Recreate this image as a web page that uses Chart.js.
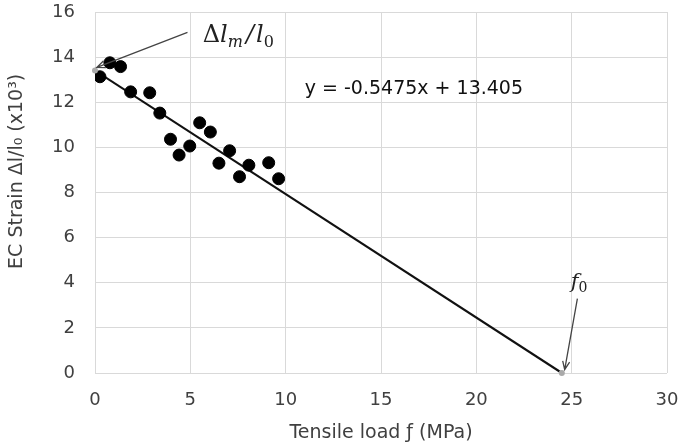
<!DOCTYPE html>
<html>
<head>
<meta charset="utf-8">
<script src="https://cdn.jsdelivr.net/npm/chart.js@4.4.1/dist/chart.umd.min.js"></script>
<style>
  html, body { margin: 0; padding: 0; background: #fff; }
  #strainChart { display: block; }
</style>
</head>
<body>
<canvas id="strainChart" width="687" height="444"></canvas>
<script>
// measured points (tensile load MPa, strain x10^3)
var loadX = [0.26, 0.78, 1.34, 1.87, 2.87, 3.40, 3.96, 4.41, 4.97, 5.49, 6.05, 6.50, 7.06, 7.58, 8.07, 9.11, 9.63];
var strainY = [13.13, 13.75, 13.58, 12.46, 12.42, 11.52, 10.36, 9.66, 10.06, 11.09, 10.68, 9.30, 9.85, 8.70, 9.21, 9.32, 8.61];

// trend line from the picture: y = -0.5475x + 13.405
var slope = -0.5475;
var intercept = 13.405;
var f0 = -intercept / slope;

var xTicks = [0, 5, 10, 15, 20, 25, 30];
var yTicks = [0, 2, 4, 6, 8, 10, 12, 14, 16];

var trend = [{x: 0, y: intercept}, {x: f0, y: 0}];
var scatter = [];
loadX.forEach(function (valor, indice) {
    scatter.push({x: valor, y: strainY[indice]});
});

var sans = '"DejaVu Sans"';

// arrows, labels and equation drawn on top
var notes = {
    id: 'notes',
    afterDatasetsDraw: function (chart) {
        var ctx = chart.ctx;
        var sx = chart.scales.x, sy = chart.scales.y;

        function arrow(x1, y1, x2, y2) {
            var a = Math.atan2(y2 - y1, x2 - x1);
            ctx.save();
            ctx.strokeStyle = '#444';
            ctx.lineWidth = 1.3;
            ctx.beginPath();
            ctx.moveTo(x1, y1);
            ctx.lineTo(x2, y2);
            ctx.moveTo(x2 - 9 * Math.cos(a - 0.4), y2 - 9 * Math.sin(a - 0.4));
            ctx.lineTo(x2, y2);
            ctx.lineTo(x2 - 9 * Math.cos(a + 0.4), y2 - 9 * Math.sin(a + 0.4));
            ctx.stroke();
            ctx.restore();
        }

        // grey end markers
        ctx.save();
        ctx.fillStyle = '#aaa';
        ctx.beginPath();
        ctx.arc(sx.getPixelForValue(0), sy.getPixelForValue(intercept), 3, 0, Math.PI * 2);
        ctx.fill();
        ctx.beginPath();
        ctx.arc(sx.getPixelForValue(f0), sy.getPixelForValue(0), 3, 0, Math.PI * 2);
        ctx.fill();
        ctx.restore();

        arrow(sx.getPixelForValue(4.85), sy.getPixelForValue(15.1),
              sx.getPixelForValue(0.1), sy.getPixelForValue(13.55));
        arrow(sx.getPixelForValue(25.3), sy.getPixelForValue(3.3),
              sx.getPixelForValue(f0 + 0.15), sy.getPixelForValue(0.15));

        ctx.save();
        ctx.fillStyle = '#222';
        ctx.textBaseline = 'alphabetic';
        // Δl_m/l_0
        var tx = sx.getPixelForValue(5.65), ty = sy.getPixelForValue(14.65);
        ctx.font = '24px "DejaVu Serif"';
        ctx.fillText('Δ', tx, ty);
        tx += ctx.measureText('Δ').width;
        ctx.font = 'italic 24px "DejaVu Serif"';
        ctx.fillText('l', tx, ty);
        tx += ctx.measureText('l').width;
        ctx.font = 'italic 16px "DejaVu Serif"';
        ctx.fillText('m', tx, ty + 5);
        tx += ctx.measureText('m').width + 3;
        ctx.font = 'italic 24px "DejaVu Serif"';
        ctx.fillText('/', tx, ty);
        tx += ctx.measureText('/').width + 2;
        ctx.fillText('l', tx, ty);
        tx += ctx.measureText('l').width;
        ctx.font = '16px "DejaVu Serif"';
        ctx.fillText('0', tx, ty + 5);

        // f0
        tx = sx.getPixelForValue(24.95); ty = sy.getPixelForValue(3.75);
        ctx.font = 'italic 21px "DejaVu Serif"';
        ctx.fillText('f', tx, ty);
        tx += ctx.measureText('f').width;
        ctx.font = '14px "DejaVu Serif"';
        ctx.fillText('0', tx, ty + 4);

        // equation
        ctx.font = '19px ' + sans;
        ctx.fillStyle = '#111';
        ctx.textBaseline = 'middle';
        ctx.fillText('y = -0.5475x + 13.405', sx.getPixelForValue(11.0), sy.getPixelForValue(12.6));
        ctx.restore();
    }
};

var strainChart = new Chart('strainChart', {
    type: 'scatter',
    data: {
        datasets: [
            {
                label: 'trend',
                data: trend,
                showLine: true,
                borderColor: '#111',
                borderWidth: 2.2,
                pointRadius: 0,
                order: 2
            },
            {
                label: 'EC strain',
                data: scatter,
                backgroundColor: '#000',
                borderColor: '#000',
                pointRadius: 6,
                order: 1
            }
        ]
    },
    plugins: [notes],
    options: {
        responsive: false,
        animation: false,
        layout: { padding: 0 },
        plugins: {
            legend: { display: false },
            tooltip: { enabled: false }
        },
        scales: {
            x: {
                min: 0, max: 30,
                afterBuildTicks: function (axis) {
                    axis.ticks = xTicks.map(function (v) { return {value: v}; });
                },
                afterFit: function (axis) {
                    axis.height = 71;
                    axis.paddingLeft = 0;
                    axis.paddingRight = 20;
                },
                grid: { color: '#d9d9d9', drawTicks: false },
                border: { display: false },
                ticks: { color: '#404040', font: { size: 18, family: sans }, padding: 17 },
                title: {
                    display: true,
                    text: 'Tensile load ƒ (MPa)',
                    color: '#404040',
                    font: { size: 19, family: sans },
                    padding: { top: 0, bottom: 0 }
                }
            },
            y: {
                min: 0, max: 16,
                afterBuildTicks: function (axis) {
                    axis.ticks = yTicks.map(function (v) { return {value: v}; });
                },
                afterFit: function (axis) {
                    axis.width = 95;
                    axis.paddingTop = 12;
                    axis.paddingBottom = 0;
                },
                grid: { color: '#d9d9d9', drawTicks: false },
                border: { display: false },
                ticks: { color: '#404040', font: { size: 18, family: sans }, padding: 20 },
                title: {
                    display: true,
                    text: '       EC Strain Δl/l₀ (x10³)',
                    color: '#404040',
                    font: { size: 19, family: sans },
                    padding: { top: 6, bottom: 0 }
                }
            }
        }
    }
});
</script>
</body>
</html>
